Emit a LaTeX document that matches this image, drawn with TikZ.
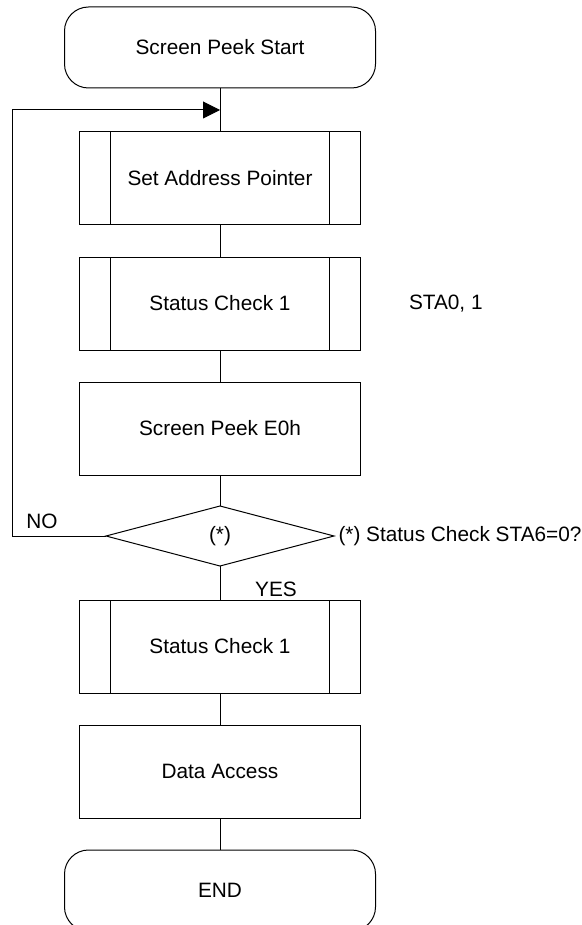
\documentclass[tikz,border=0pt]{standalone}
\usepackage{fontspec}
\setmainfont{Liberation Sans}
\usetikzlibrary{calc, arrows.meta, positioning, shapes.geometric}

\begin{document}
\begin{tikzpicture}
    [
        node distance=62.5pt,auto,
        font=\fontsize{10.4pt}{12pt}\selectfont,
        line width=0.5pt,
        term/.style={draw, rounded corners=12pt, minimum width=155.5pt, minimum height=40.5pt, outer sep=0pt},
        box/.style={draw, minimum width=140.5pt, minimum height=46.5pt, inner sep=0pt, outer sep=0pt},
        decision/.style={draw, diamond, minimum width=114pt, minimum height=30pt, inner sep=0pt, outer sep=0pt},
        note/.style={inner sep=0pt}
    ]
    \tikzstyle{line} = [draw]
    \tikzstyle{loopline} = [draw, -{Triangle[length=8.5pt,width=8.5pt]}]

    \useasboundingbox (0,0) rectangle (291pt,-462.5pt);

    % Flow
    \node[term] (start) at (110pt,-23.75pt) {Screen Peek Start};
    \node[box, below of=start, node distance=65.5pt] (addr) {Set Address Pointer};
    \node[box, below of=addr] (stat1) {Status Check 1};
    \node[box, below of=stat1] (peek) {Screen Peek E0h};
    \node[decision, below of=peek, node distance=53.75pt] (chk) {(*)};
    \node[box, below of=chk, node distance=55.25pt] (stat2) {Status Check 1};
    \node[box, below of=stat2] (data) {Data Access};
    \node[term, below of=data, node distance=59.5pt] (stop) {END};

    % Subroutine bars
    \foreach \n in {addr, stat1, stat2} {
        \draw ([xshift=15.5pt]\n.north west) -- ([xshift=15.5pt]\n.south west);
        \draw ([xshift=-15.5pt]\n.north east) -- ([xshift=-15.5pt]\n.south east);
    }

    % Notes
    \node[note, right=24pt of stat1] (sta01) {STA0, 1};
    \node[note, right=2pt of chk] (cond) {(*) Status Check STA6=0?};
    \node[note] (no) at (21pt,-260.5pt) {NO};
    \node[note] (yes) at (138pt,-294.5pt) {YES};

    % Connectors
    \coordinate (join) at ($(start.south)!0.5!(addr.north)$);
    \coordinate (leftx) at (6pt,0);
    \path[line] (start) edge (addr);
    \path[line] (addr) edge (stat1);
    \path[line] (stat1) edge (peek);
    \path[line] (peek) edge (chk);
    \path[line] (chk) edge (stat2);
    \path[line] (stat2) edge (data);
    \path[line] (data) edge (stop);
    \path[loopline] (chk.west) -- (chk.west -| leftx) |- (join);

\end{tikzpicture}
\end{document}
